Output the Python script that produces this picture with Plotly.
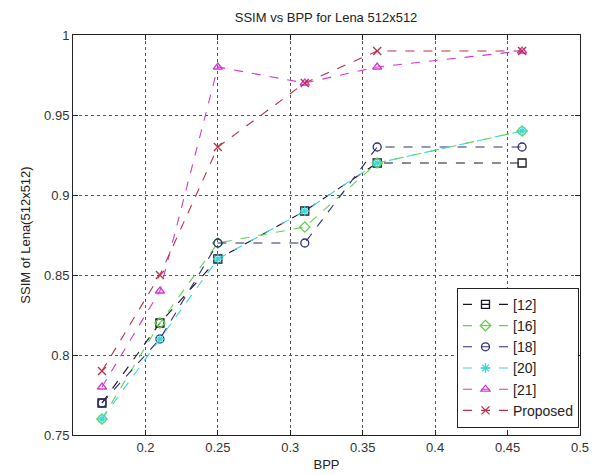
import plotly.graph_objects as go

# Bit rate (bits per pixel) at which each method was evaluated
bpp = [0.17, 0.21, 0.25, 0.31, 0.36, 0.46]

# SSIM on Lena 512x512 for each method
ssim_12 = [0.77, 0.82, 0.86, 0.89, 0.92, 0.92]
ssim_16 = [0.76, 0.82, 0.87, 0.88, 0.92, 0.94]
ssim_18 = [0.77, 0.81, 0.87, 0.87, 0.93, 0.93]
ssim_20 = [0.76, 0.81, 0.86, 0.89, 0.92, 0.94]
ssim_21 = [0.78, 0.84, 0.98, 0.97, 0.98, 0.99]
ssim_proposed = [0.79, 0.85, 0.93, 0.97, 0.99, 0.99]

series_names = ["[12]", "[16]", "[18]", "[20]", "[21]", "Proposed"]
series_values = [ssim_12, ssim_16, ssim_18, ssim_20, ssim_21, ssim_proposed]
colors = ["#151528", "#66d04a", "#2c2c78", "#38d8d8", "#d03ad0", "#b8304a"]
symbols = ["square-open", "diamond-open", "circle-open", "asterisk-open",
           "triangle-up-open", "x-thin-open"]

x_ticks = [0.2, 0.25, 0.3, 0.35, 0.4, 0.45, 0.5]
y_ticks = [0.75, 0.8, 0.85, 0.9, 0.95, 1.0]
y_tick_text = ["0.75", "0.8", "0.85", "0.9", "0.95", "1"]

FONT = "Liberation Sans, Arial"

fig = go.Figure()
for name, vals, col, sym in zip(series_names, series_values, colors, symbols):
    fig.add_trace(go.Scatter(
        x=bpp, y=vals, name=name, mode="lines+markers",
        line=dict(color=col, width=1.1, dash="dash"),
        marker=dict(symbol=sym, size=8, color=col,
                    line=dict(color=col, width=1.3)),
    ))

axis_common = dict(
    showline=True, linecolor="#222", linewidth=1, mirror="ticks",
    ticks="inside", ticklen=5, tickcolor="#222",
    showgrid=True, gridcolor="#555", griddash="dot", gridwidth=1,
    zeroline=False, automargin=False,
    tickfont=dict(family=FONT, size=13, color="#333"),
)

fig.update_layout(
    width=595, height=475,
    margin=dict(l=73, r=15, t=35, b=40),
    paper_bgcolor="white", plot_bgcolor="white",
    title=dict(text="SSIM vs BPP for Lena 512x512", x=0.548, xanchor="center",
               y=0.963, yanchor="middle",
               font=dict(family=FONT, size=13, color="#222")),
    xaxis=dict(range=[0.15, 0.5], tickvals=x_ticks,
               ticktext=[str(v) for v in x_ticks],
               title=dict(text="BPP", standoff=6,
                          font=dict(family=FONT, size=13, color="#222")),
               **axis_common),
    yaxis=dict(range=[0.75, 1.0], tickvals=y_ticks, ticktext=y_tick_text,
               title=dict(text="SSIM of Lena(512x512)", standoff=10,
                          font=dict(family=FONT, size=13, color="#222")),
               **axis_common),
    legend=dict(x=0.998, y=0.018, xanchor="right", yanchor="bottom",
                bgcolor="white", bordercolor="#222", borderwidth=1,
                font=dict(family=FONT, size=14, color="#222"),
                tracegroupgap=0, itemwidth=45),
    showlegend=True,
)

fig.write_html("out.html")
